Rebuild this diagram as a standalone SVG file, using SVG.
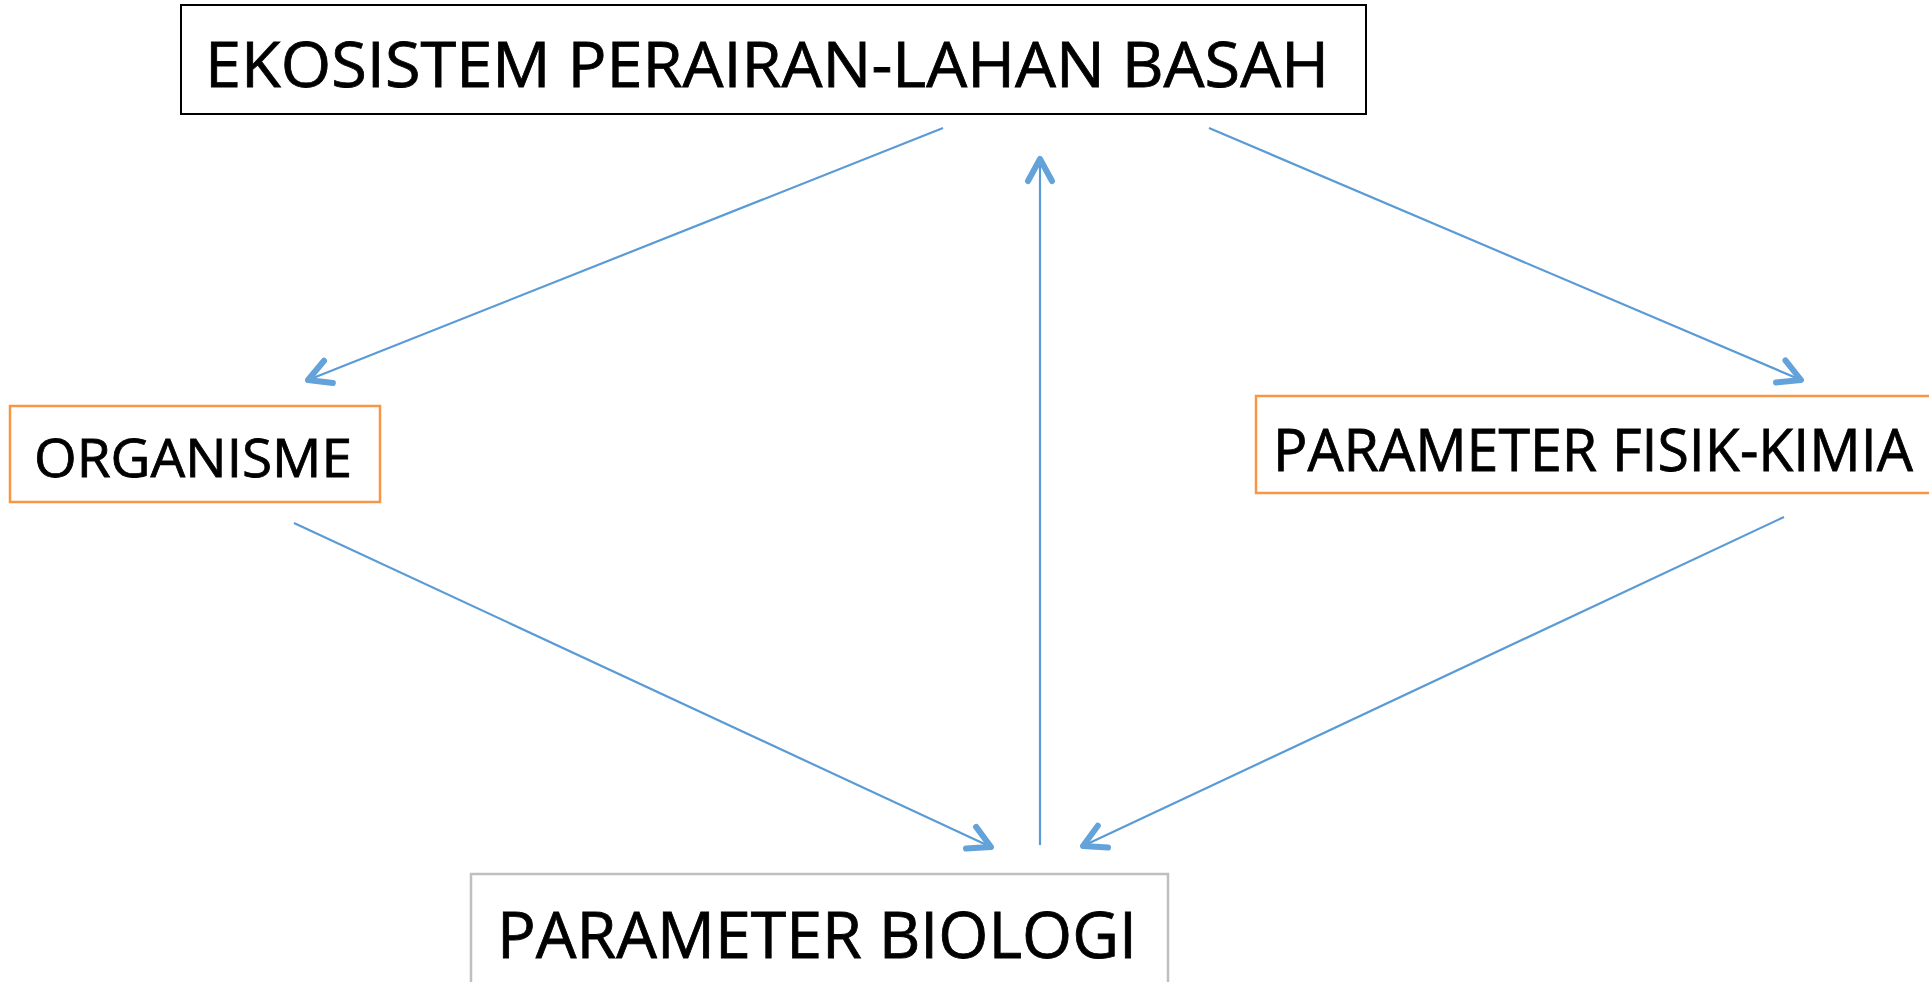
<svg xmlns="http://www.w3.org/2000/svg" width="1929" height="982" viewBox="0 0 1929 982">
  <style>
    .lbl { font-family: "Open Sans", "Noto Sans", "Liberation Sans", sans-serif; fill: #000; stroke: #000; stroke-width: 0.8; }
    .conn { stroke: #5B9BD5; stroke-width: 2.2; fill: none; marker-end: url(#arr); }
  </style>
  <defs>
    <marker id="arr" markerUnits="userSpaceOnUse" viewBox="-30 -20 40 40" markerWidth="40" markerHeight="40" refX="0" refY="0" orient="auto" overflow="visible">
      <path d="M -22 -12 L 0 0 L -22 12" fill="none" stroke="#64A3DA" stroke-width="6" stroke-linecap="round" stroke-linejoin="round"/>
    </marker>
  </defs>
  <rect width="1929" height="982" fill="#fff"/>
  <g id="connectors">
    <line class="conn" x1="943" y1="128" x2="308" y2="380"/>
    <line class="conn" x1="1209" y1="128" x2="1801" y2="380"/>
    <line class="conn" x1="1040" y1="845" x2="1040" y2="159"/>
    <line class="conn" x1="294" y1="523" x2="991" y2="847"/>
    <line class="conn" x1="1784" y1="517" x2="1083" y2="846"/>
  </g>
  <g id="node-ekosistem">
    <rect x="181" y="5" width="1185" height="109" fill="none" stroke="#000" stroke-width="2"/>
    <text class="lbl" x="205" y="87" font-size="63" textLength="1124" lengthAdjust="spacingAndGlyphs">EKOSISTEM PERAIRAN-LAHAN BASAH</text>
  </g>
  <g id="node-organisme">
    <rect x="10" y="406" width="370" height="96" fill="none" stroke="#F79646" stroke-width="2.5"/>
    <text class="lbl" x="34" y="477" font-size="53" textLength="318" lengthAdjust="spacingAndGlyphs">ORGANISME</text>
  </g>
  <g id="node-fisik-kimia">
    <rect x="1256" y="396" width="700" height="97" fill="none" stroke="#F79646" stroke-width="2.5"/>
    <text class="lbl" x="1273" y="471" font-size="58" textLength="640" lengthAdjust="spacingAndGlyphs">PARAMETER FISIK-KIMIA</text>
  </g>
  <g id="node-biologi">
    <rect x="471" y="874" width="697" height="130" fill="none" stroke="#BFBFBF" stroke-width="2.5"/>
    <text class="lbl" x="497" y="958" font-size="64" textLength="640" lengthAdjust="spacingAndGlyphs">PARAMETER BIOLOGI</text>
  </g>
</svg>
